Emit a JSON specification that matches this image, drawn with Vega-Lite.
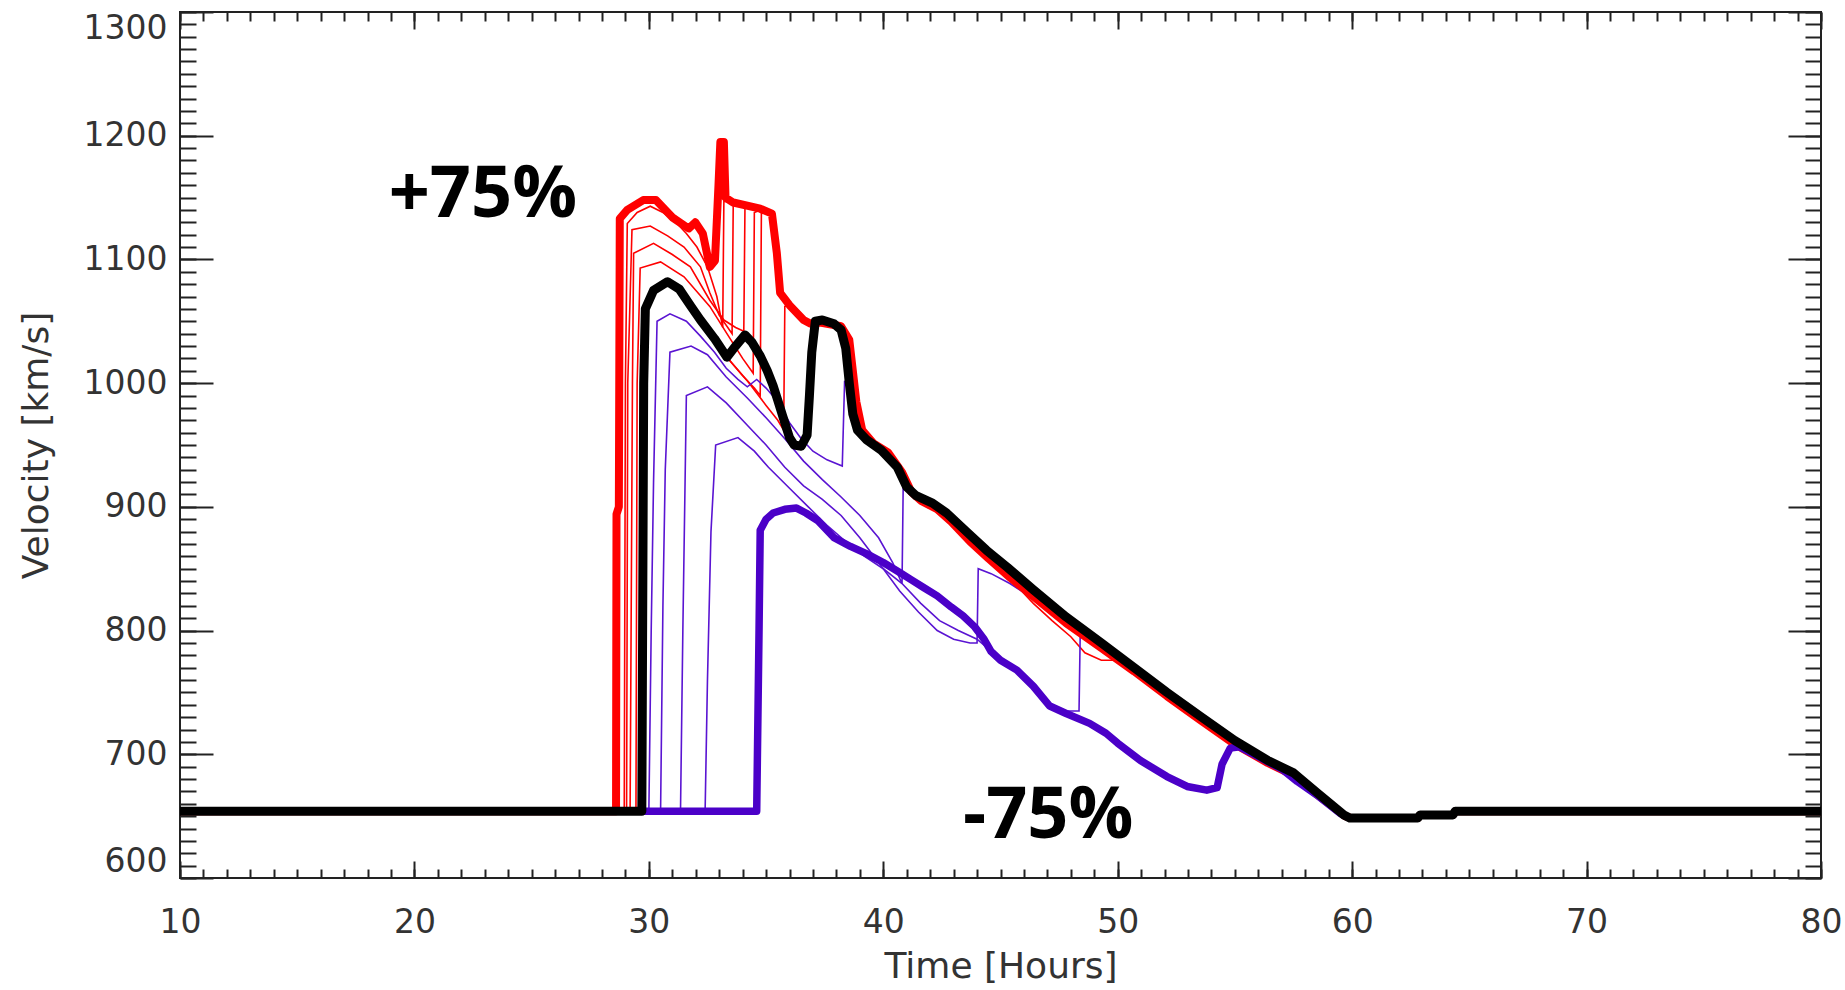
{
  "$schema": "https://vega.github.io/schema/vega-lite/v6.json",
  "width": 1641,
  "height": 866,
  "autosize": "none",
  "padding": {"left": 180, "top": 12, "right": 24, "bottom": 112},
  "background": "white",
  "config": {
    "view": {"stroke": "#222", "strokeWidth": 2},
    "axis": {
      "grid": false, "domain": false, "tickColor": "#222", "tickWidth": 2,
      "labelFont": "DejaVu Sans", "labelFontSize": 33, "labelColor": "#333",
      "titleFont": "DejaVu Sans", "titleFontSize": 36, "titleFontWeight": "normal", "titleColor": "#333"
    }
  },
  "datasets": {
    "thinred": [
      {"run":"R1","t":10,"v":654},{"run":"R1","t":28.95,"v":654},{"run":"R1","t":29.0,"v":1000},{"run":"R1","t":29.08,"v":1129},{"run":"R1","t":29.5,"v":1138},{"run":"R1","t":30.06,"v":1143},{"run":"R1","t":30.6,"v":1138},{"run":"R1","t":31.2,"v":1129},{"run":"R1","t":31.6,"v":1121},{"run":"R1","t":32.05,"v":1110},{"run":"R1","t":32.5,"v":1094},{"run":"R1","t":32.9,"v":1070},{"run":"R1","t":33.15,"v":1045},{"run":"R1","t":33.2,"v":1147},{"run":"R1","t":33.6,"v":1146},{"run":"R1","t":34.75,"v":1141},{"run":"R1","t":35.25,"v":1137},{"run":"R1","t":35.46,"v":1105},{"run":"R1","t":35.6,"v":1073},{"run":"R1","t":36.0,"v":1063},{"run":"R1","t":36.6,"v":1051},{"run":"R1","t":37.3,"v":1049},
      {"run":"R2","t":10,"v":654},{"run":"R2","t":29.05,"v":654},{"run":"R2","t":29.1,"v":1000},{"run":"R2","t":29.28,"v":1124},{"run":"R2","t":30.06,"v":1127},{"run":"R2","t":30.8,"v":1119},{"run":"R2","t":31.5,"v":1110},{"run":"R2","t":32.2,"v":1094},{"run":"R2","t":32.6,"v":1073},{"run":"R2","t":33.0,"v":1055},{"run":"R2","t":33.55,"v":1040},{"run":"R2","t":33.6,"v":1146},{"run":"R2","t":34.75,"v":1141},{"run":"R2","t":35.25,"v":1137},{"run":"R2","t":35.46,"v":1105},{"run":"R2","t":35.6,"v":1073},{"run":"R2","t":36.0,"v":1063},{"run":"R2","t":36.6,"v":1051},{"run":"R2","t":37.3,"v":1049},
      {"run":"R3","t":10,"v":654},{"run":"R3","t":29.2,"v":654},{"run":"R3","t":29.3,"v":1000},{"run":"R3","t":29.35,"v":1105},{"run":"R3","t":30.2,"v":1113},{"run":"R3","t":31.0,"v":1104},{"run":"R3","t":31.77,"v":1094},{"run":"R3","t":32.6,"v":1067},{"run":"R3","t":33.2,"v":1051},{"run":"R3","t":33.7,"v":1045},{"run":"R3","t":34.05,"v":1042},{"run":"R3","t":34.1,"v":1143},{"run":"R3","t":34.75,"v":1141},{"run":"R3","t":35.25,"v":1137},{"run":"R3","t":35.46,"v":1105},{"run":"R3","t":35.6,"v":1073},{"run":"R3","t":36.0,"v":1063},{"run":"R3","t":36.6,"v":1051},{"run":"R3","t":37.3,"v":1049},
      {"run":"R4","t":10,"v":654},{"run":"R4","t":29.45,"v":654},{"run":"R4","t":29.5,"v":1000},{"run":"R4","t":29.63,"v":1093},{"run":"R4","t":30.5,"v":1098},{"run":"R4","t":31.5,"v":1086},{"run":"R4","t":32.6,"v":1062},{"run":"R4","t":33.33,"v":1040},{"run":"R4","t":34.0,"v":1020},{"run":"R4","t":34.45,"v":1008},{"run":"R4","t":34.5,"v":1138},{"run":"R4","t":34.75,"v":1140},{"run":"R4","t":35.25,"v":1137},{"run":"R4","t":35.46,"v":1105},{"run":"R4","t":35.6,"v":1073},{"run":"R4","t":36.0,"v":1063},{"run":"R4","t":36.6,"v":1051},{"run":"R4","t":37.3,"v":1049},
      {"run":"R5","t":10,"v":654},{"run":"R5","t":29.6,"v":654},{"run":"R5","t":29.78,"v":1000},{"run":"R5","t":29.85,"v":1060},{"run":"R5","t":30.2,"v":1075},{"run":"R5","t":30.8,"v":1082},{"run":"R5","t":31.3,"v":1076},{"run":"R5","t":31.8,"v":1062},{"run":"R5","t":32.2,"v":1051},{"run":"R5","t":32.8,"v":1036},{"run":"R5","t":33.33,"v":1021},{"run":"R5","t":34.0,"v":1006},{"run":"R5","t":34.5,"v":996},{"run":"R5","t":34.75,"v":990},{"run":"R5","t":34.8,"v":1138},{"run":"R5","t":35.25,"v":1137},{"run":"R5","t":35.46,"v":1105},{"run":"R5","t":35.6,"v":1073},{"run":"R5","t":36.0,"v":1063},{"run":"R5","t":36.6,"v":1051},{"run":"R5","t":37.3,"v":1049},{"run":"R5","t":38.2,"v":1046},{"run":"R5","t":38.55,"v":1035},{"run":"R5","t":38.7,"v":1010},{"run":"R5","t":38.85,"v":985},{"run":"R5","t":39.1,"v":962},{"run":"R5","t":39.6,"v":951},{"run":"R5","t":40.2,"v":944},{"run":"R5","t":40.8,"v":928},{"run":"R5","t":41.2,"v":912},{"run":"R5","t":41.6,"v":905},{"run":"R5","t":42.3,"v":898},{"run":"R5","t":42.9,"v":888},{"run":"R5","t":43.7,"v":872},{"run":"R5","t":44.5,"v":858},{"run":"R5","t":45.2,"v":845},{"run":"R5","t":46.0,"v":832},{"run":"R5","t":46.8,"v":820},{"run":"R5","t":47.6,"v":808},{"run":"R5","t":48.4,"v":797},{"run":"R5","t":49.3,"v":786},{"run":"R5","t":50.0,"v":776},
      {"run":"R6","t":10,"v":654},{"run":"R6","t":29.65,"v":654},{"run":"R6","t":29.79,"v":1000},{"run":"R6","t":29.86,"v":1060},{"run":"R6","t":30.2,"v":1075},{"run":"R6","t":30.8,"v":1082},{"run":"R6","t":31.3,"v":1076},{"run":"R6","t":31.8,"v":1062},{"run":"R6","t":32.2,"v":1051},{"run":"R6","t":32.8,"v":1036},{"run":"R6","t":33.33,"v":1021},{"run":"R6","t":34.2,"v":1002},{"run":"R6","t":35.0,"v":982},{"run":"R6","t":35.5,"v":970},{"run":"R6","t":35.75,"v":962},{"run":"R6","t":35.8,"v":1062},{"run":"R6","t":36.0,"v":1063},{"run":"R6","t":36.6,"v":1051},{"run":"R6","t":37.3,"v":1049},{"run":"R6","t":38.2,"v":1046},{"run":"R6","t":38.55,"v":1035},{"run":"R6","t":38.7,"v":1010},{"run":"R6","t":38.85,"v":985},{"run":"R6","t":39.1,"v":962},{"run":"R6","t":39.6,"v":951},{"run":"R6","t":40.2,"v":944},{"run":"R6","t":40.8,"v":928},{"run":"R6","t":41.2,"v":912},{"run":"R6","t":41.6,"v":905},{"run":"R6","t":42.3,"v":898},{"run":"R6","t":42.9,"v":888},{"run":"R6","t":43.7,"v":872},{"run":"R6","t":44.5,"v":858},{"run":"R6","t":45.0,"v":849},{"run":"R6","t":45.6,"v":838},{"run":"R6","t":46.4,"v":822},{"run":"R6","t":47.2,"v":808},{"run":"R6","t":48.0,"v":795},{"run":"R6","t":48.6,"v":782},{"run":"R6","t":49.3,"v":776},{"run":"R6","t":49.9,"v":776},{"run":"R6","t":50.5,"v":771},{"run":"R6","t":50.9,"v":763},{"run":"R6","t":52.1,"v":747}
    ],
    "thinpurple": [
      {"run":"P1","t":10,"v":654},{"run":"P1","t":30.0,"v":654},{"run":"P1","t":30.1,"v":800},{"run":"P1","t":30.2,"v":920},{"run":"P1","t":30.35,"v":1050},{"run":"P1","t":30.9,"v":1056},{"run":"P1","t":31.6,"v":1050},{"run":"P1","t":32.2,"v":1038},{"run":"P1","t":32.8,"v":1025},{"run":"P1","t":33.3,"v":1012},{"run":"P1","t":33.8,"v":1003},{"run":"P1","t":34.2,"v":997},{"run":"P1","t":34.6,"v":1003},{"run":"P1","t":35.0,"v":996},{"run":"P1","t":35.5,"v":985},{"run":"P1","t":36.0,"v":968},{"run":"P1","t":36.5,"v":955},{"run":"P1","t":37.0,"v":945},{"run":"P1","t":37.6,"v":938},{"run":"P1","t":38.25,"v":933},{"run":"P1","t":38.35,"v":1002},{"run":"P1","t":38.6,"v":990},{"run":"P1","t":38.9,"v":962},{"run":"P1","t":39.3,"v":954},
      {"run":"P2","t":10,"v":654},{"run":"P2","t":30.5,"v":654},{"run":"P2","t":30.6,"v":820},{"run":"P2","t":30.7,"v":930},{"run":"P2","t":30.9,"v":1025},{"run":"P2","t":31.8,"v":1030},{"run":"P2","t":32.5,"v":1023},{"run":"P2","t":33.3,"v":1005},{"run":"P2","t":34.2,"v":988},{"run":"P2","t":35.0,"v":972},{"run":"P2","t":35.8,"v":955},{"run":"P2","t":36.6,"v":937},{"run":"P2","t":37.4,"v":922},{"run":"P2","t":38.2,"v":908},{"run":"P2","t":39.0,"v":893},{"run":"P2","t":39.8,"v":875},{"run":"P2","t":40.4,"v":855},{"run":"P2","t":40.8,"v":838},{"run":"P2","t":40.85,"v":918},{"run":"P2","t":41.0,"v":914},{"run":"P2","t":41.4,"v":906},{"run":"P2","t":42.1,"v":900},{"run":"P2","t":42.7,"v":892},{"run":"P2","t":43.6,"v":876},{"run":"P2","t":44.4,"v":862},
      {"run":"P3","t":10,"v":654},{"run":"P3","t":31.35,"v":654},{"run":"P3","t":31.45,"v":800},{"run":"P3","t":31.6,"v":990},{"run":"P3","t":32.5,"v":997},{"run":"P3","t":33.3,"v":984},{"run":"P3","t":34.2,"v":966},{"run":"P3","t":35.0,"v":950},{"run":"P3","t":35.8,"v":932},{"run":"P3","t":36.6,"v":917},{"run":"P3","t":37.4,"v":906},{"run":"P3","t":38.2,"v":893},{"run":"P3","t":39.0,"v":875},{"run":"P3","t":40.0,"v":850},{"run":"P3","t":40.7,"v":832},{"run":"P3","t":41.5,"v":815},{"run":"P3","t":42.3,"v":800},{"run":"P3","t":43.0,"v":793},{"run":"P3","t":43.7,"v":790},{"run":"P3","t":44.0,"v":790},{"run":"P3","t":44.05,"v":850},{"run":"P3","t":44.6,"v":846},{"run":"P3","t":45.4,"v":838},{"run":"P3","t":46.4,"v":826},{"run":"P3","t":47.0,"v":818},{"run":"P3","t":47.8,"v":808},{"run":"P3","t":48.5,"v":798},{"run":"P3","t":49.3,"v":789},
      {"run":"P4","t":10,"v":654},{"run":"P4","t":32.4,"v":654},{"run":"P4","t":32.5,"v":760},{"run":"P4","t":32.65,"v":880},{"run":"P4","t":32.85,"v":950},{"run":"P4","t":33.8,"v":956},{"run":"P4","t":34.5,"v":945},{"run":"P4","t":35.1,"v":932},{"run":"P4","t":36.0,"v":915},{"run":"P4","t":36.8,"v":900},{"run":"P4","t":37.6,"v":885},{"run":"P4","t":38.4,"v":872},{"run":"P4","t":39.2,"v":860},{"run":"P4","t":40.0,"v":850},{"run":"P4","t":40.8,"v":838},{"run":"P4","t":41.6,"v":822},{"run":"P4","t":42.4,"v":808},{"run":"P4","t":43.2,"v":800},{"run":"P4","t":44.0,"v":793},{"run":"P4","t":44.8,"v":780},{"run":"P4","t":45.5,"v":770},{"run":"P4","t":46.3,"v":757},{"run":"P4","t":47.0,"v":742},{"run":"P4","t":47.8,"v":735},{"run":"P4","t":48.35,"v":735},{"run":"P4","t":48.4,"v":797},{"run":"P4","t":49.3,"v":789},{"run":"P4","t":50.0,"v":779}
    ],
    "plus": [
      {"t":10,"v":654},{"t":28.6,"v":654},{"t":28.62,"v":894},{"t":28.72,"v":900},{"t":28.76,"v":1133},{"t":29.08,"v":1140},{"t":29.76,"v":1148},{"t":30.3,"v":1148},{"t":31.0,"v":1134},{"t":31.7,"v":1125},{"t":31.98,"v":1130},{"t":32.3,"v":1121},{"t":32.6,"v":1094},{"t":32.82,"v":1099},{"t":32.97,"v":1160},{"t":33.05,"v":1195},{"t":33.2,"v":1195},{"t":33.27,"v":1150},{"t":33.6,"v":1146},{"t":34.75,"v":1141},{"t":35.25,"v":1137},{"t":35.46,"v":1105},{"t":35.6,"v":1073},{"t":36.0,"v":1063},{"t":36.6,"v":1051},{"t":36.9,"v":1048},{"t":37.3,"v":1049},{"t":38.2,"v":1046},{"t":38.55,"v":1035},{"t":38.7,"v":1010},{"t":38.85,"v":985},{"t":39.1,"v":962},{"t":39.6,"v":951},{"t":40.2,"v":944},{"t":40.8,"v":928},{"t":41.2,"v":912},{"t":41.6,"v":905},{"t":42.3,"v":898},{"t":42.9,"v":888},{"t":43.7,"v":872},{"t":44.5,"v":858},{"t":45.4,"v":843},{"t":46.5,"v":826},{"t":47.8,"v":806},{"t":49.3,"v":786},{"t":50.7,"v":767},{"t":52.1,"v":747},{"t":53.5,"v":728},{"t":55.0,"v":708},{"t":56.4,"v":693},{"t":57.5,"v":683},{"t":58.6,"v":666},{"t":59.7,"v":650},{"t":59.95,"v":648.5},{"t":62.8,"v":648.5},{"t":62.9,"v":651},{"t":64.3,"v":651},{"t":64.4,"v":654},{"t":80,"v":654}
    ],
    "minus": [
      {"t":10,"v":654},{"t":34.6,"v":654},{"t":34.7,"v":800},{"t":34.75,"v":881},{"t":35.0,"v":890},{"t":35.3,"v":895},{"t":35.8,"v":898},{"t":36.3,"v":899},{"t":36.7,"v":895},{"t":37.2,"v":889},{"t":37.9,"v":875},{"t":38.6,"v":868},{"t":39.3,"v":862},{"t":40.0,"v":855},{"t":40.7,"v":847},{"t":41.2,"v":841},{"t":41.7,"v":835},{"t":42.3,"v":828},{"t":42.9,"v":819},{"t":43.4,"v":812},{"t":43.9,"v":803},{"t":44.3,"v":793},{"t":44.6,"v":783},{"t":45.0,"v":776},{"t":45.7,"v":768},{"t":46.4,"v":755},{"t":47.1,"v":739},{"t":47.8,"v":733},{"t":48.8,"v":725},{"t":49.5,"v":717},{"t":50.0,"v":709},{"t":50.97,"v":695},{"t":52.1,"v":682},{"t":52.96,"v":674},{"t":53.8,"v":671},{"t":54.24,"v":673},{"t":54.45,"v":692},{"t":54.8,"v":705},{"t":55.2,"v":706},{"t":56.1,"v":697},{"t":57.0,"v":688},{"t":57.66,"v":678},{"t":58.5,"v":667},{"t":59.5,"v":652},{"t":59.9,"v":648.5},{"t":62.8,"v":648.5},{"t":62.9,"v":651},{"t":64.3,"v":651},{"t":64.4,"v":654},{"t":80,"v":654}
    ],
    "base": [
      {"t":10,"v":654},{"t":29.7,"v":654},{"t":29.78,"v":1000},{"t":29.85,"v":1060},{"t":30.2,"v":1075},{"t":30.8,"v":1082},{"t":31.3,"v":1076},{"t":31.8,"v":1062},{"t":32.2,"v":1051},{"t":32.8,"v":1036},{"t":33.33,"v":1021},{"t":33.7,"v":1030},{"t":34.1,"v":1039},{"t":34.4,"v":1033},{"t":34.75,"v":1022},{"t":35.05,"v":1010},{"t":35.3,"v":998},{"t":35.5,"v":986},{"t":35.7,"v":974},{"t":36.0,"v":956},{"t":36.2,"v":950},{"t":36.5,"v":949},{"t":36.75,"v":958},{"t":36.85,"v":990},{"t":36.95,"v":1025},{"t":37.1,"v":1050},{"t":37.4,"v":1051},{"t":37.9,"v":1048},{"t":38.2,"v":1043},{"t":38.4,"v":1028},{"t":38.55,"v":1000},{"t":38.7,"v":975},{"t":38.9,"v":962},{"t":39.3,"v":954},{"t":39.9,"v":946},{"t":40.6,"v":932},{"t":41.0,"v":916},{"t":41.4,"v":909},{"t":42.1,"v":903},{"t":42.7,"v":895},{"t":43.6,"v":879},{"t":44.4,"v":865},{"t":45.3,"v":851},{"t":46.4,"v":833},{"t":47.8,"v":811},{"t":49.3,"v":790},{"t":50.7,"v":770},{"t":52.1,"v":750},{"t":53.5,"v":731},{"t":55.0,"v":711},{"t":56.4,"v":695},{"t":57.5,"v":685},{"t":58.5,"v":669},{"t":59.65,"v":651},{"t":59.9,"v":648.5},{"t":62.8,"v":648.5},{"t":62.9,"v":651},{"t":64.3,"v":651},{"t":64.4,"v":654},{"t":80,"v":654}
    ],
    "notes": [
      {"label":"+75%","t":18.9,"v":1134},
      {"label":"-75%","t":43.4,"v":632}
    ]
  },
  "layer": [
    {
      "data": {"name": "thinred"},
      "mark": {"type": "line", "color": "#ff0000", "strokeWidth": 1.6},
      "encoding": {
        "x": {"field": "t", "type": "quantitative", "scale": {"domain": [10, 80], "nice": false, "zero": false},
          "axis": {"orient": "bottom", "values": [10,20,30,40,50,60,70,80], "format": "d", "labelFlush": false, "tickSize": -17, "labelPadding": 45, "title": "Time [Hours]", "titlePadding": 10}},
        "y": {"field": "v", "type": "quantitative", "scale": {"domain": [600, 1300], "nice": false, "zero": false},
          "axis": {"orient": "left", "values": [600,700,800,900,1000,1100,1200,1300], "format": "d", "tickSize": -33, "labelPadding": 46, "labelFlush": true, "title": "Velocity [km/s]", "titlePadding": 28}},
        "detail": {"field": "run"}
      }
    },
    {
      "data": {"name": "thinpurple"},
      "mark": {"type": "line", "color": "#5a14d2", "strokeWidth": 1.6},
      "encoding": {
        "x": {"field": "t", "type": "quantitative", "scale": {"domain": [10, 80], "nice": false, "zero": false},
          "axis": {"orient": "bottom", "values": [10,11,12,13,14,15,16,17,18,19,20,21,22,23,24,25,26,27,28,29,30,31,32,33,34,35,36,37,38,39,40,41,42,43,44,45,46,47,48,49,50,51,52,53,54,55,56,57,58,59,60,61,62,63,64,65,66,67,68,69,70,71,72,73,74,75,76,77,78,79,80], "tickSize": -9, "labels": false, "title": null}},
        "y": {"field": "v", "type": "quantitative", "scale": {"domain": [600, 1300], "nice": false, "zero": false},
          "axis": {"orient": "left", "values": [600,610,620,630,640,650,660,670,680,690,700,710,720,730,740,750,760,770,780,790,800,810,820,830,840,850,860,870,880,890,900,910,920,930,940,950,960,970,980,990,1000,1010,1020,1030,1040,1050,1060,1070,1080,1090,1100,1110,1120,1130,1140,1150,1160,1170,1180,1190,1200,1210,1220,1230,1240,1250,1260,1270,1280,1290,1300], "tickSize": -16, "labels": false, "title": null}},
        "detail": {"field": "run"}
      }
    },
    {
      "data": {"name": "plus"},
      "mark": {"type": "line", "color": "#ff0000", "strokeWidth": 8, "strokeJoin": "round"},
      "encoding": {
        "x": {"field": "t", "type": "quantitative", "scale": {"domain": [10, 80], "nice": false, "zero": false},
          "axis": {"orient": "top", "values": [10,20,30,40,50,60,70,80], "tickSize": -17, "labels": false, "title": null}},
        "y": {"field": "v", "type": "quantitative", "scale": {"domain": [600, 1300], "nice": false, "zero": false},
          "axis": {"orient": "right", "values": [600,700,800,900,1000,1100,1200,1300], "tickSize": -33, "labels": false, "title": null}}
      }
    },
    {
      "data": {"name": "minus"},
      "mark": {"type": "line", "color": "#4b00c8", "strokeWidth": 7.5, "strokeJoin": "round"},
      "encoding": {
        "x": {"field": "t", "type": "quantitative", "scale": {"domain": [10, 80], "nice": false, "zero": false},
          "axis": {"orient": "top", "values": [10,11,12,13,14,15,16,17,18,19,20,21,22,23,24,25,26,27,28,29,30,31,32,33,34,35,36,37,38,39,40,41,42,43,44,45,46,47,48,49,50,51,52,53,54,55,56,57,58,59,60,61,62,63,64,65,66,67,68,69,70,71,72,73,74,75,76,77,78,79,80], "tickSize": -9, "labels": false, "title": null}},
        "y": {"field": "v", "type": "quantitative", "scale": {"domain": [600, 1300], "nice": false, "zero": false},
          "axis": {"orient": "right", "values": [600,610,620,630,640,650,660,670,680,690,700,710,720,730,740,750,760,770,780,790,800,810,820,830,840,850,860,870,880,890,900,910,920,930,940,950,960,970,980,990,1000,1010,1020,1030,1040,1050,1060,1070,1080,1090,1100,1110,1120,1130,1140,1150,1160,1170,1180,1190,1200,1210,1220,1230,1240,1250,1260,1270,1280,1290,1300], "tickSize": -16, "labels": false, "title": null}}
      }
    },
    {
      "data": {"name": "base"},
      "mark": {"type": "line", "color": "#000000", "strokeWidth": 9, "strokeJoin": "round"},
      "encoding": {
        "x": {"field": "t", "type": "quantitative", "scale": {"domain": [10, 80], "nice": false, "zero": false}, "axis": null},
        "y": {"field": "v", "type": "quantitative", "scale": {"domain": [600, 1300], "nice": false, "zero": false}, "axis": null}
      }
    },
    {
      "data": {"name": "notes"},
      "mark": {"type": "text", "font": "Open Sans", "fontWeight": "bold", "fontSize": 72, "align": "left", "baseline": "alphabetic", "color": "#000000"},
      "encoding": {
        "x": {"field": "t", "type": "quantitative", "scale": {"domain": [10, 80], "nice": false, "zero": false}, "axis": null},
        "y": {"field": "v", "type": "quantitative", "scale": {"domain": [600, 1300], "nice": false, "zero": false}, "axis": null},
        "text": {"field": "label"}
      }
    }
  ],
  "resolve": {"axis": {"x": "independent", "y": "independent"}}
}
